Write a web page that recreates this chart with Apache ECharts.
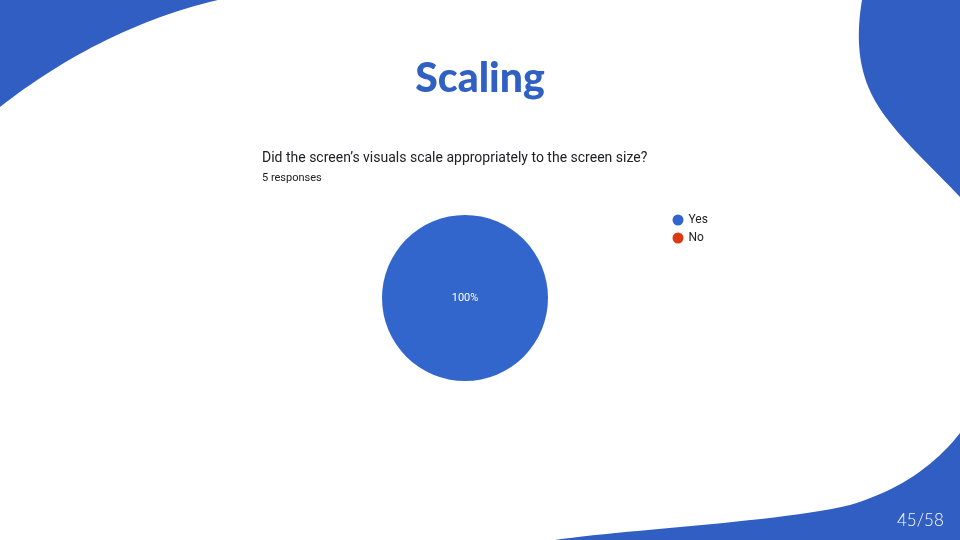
<!DOCTYPE html>
<html><head><meta charset="utf-8">
<script src="https://cdn.jsdelivr.net/npm/echarts@6/dist/echarts.min.js"></script>
<style>html,body{margin:0;padding:0;background:#fff}#c{width:960px;height:540px}</style>
</head><body><div id="c"></div>
<script>
const categories = ['Yes', 'No'];
const values = [5, 0];
const colors = ['#3366cc', '#dc3912'];
const titleText = 'Scaling';
const questionText = 'Did the screen\u2019s visuals scale appropriately to the screen size?';
const responsesText = '5 responses';
const pageText = '45/58';

const blob = '#315EC2';
// sample cubic bezier segments into polygon points (decorative shapes)
function cubic(p0, p1, p2, p3, n) {
  const pts = [];
  for (let i = 0; i <= n; i++) {
    const t = i / n, u = 1 - t;
    pts.push([
      u*u*u*p0[0] + 3*u*u*t*p1[0] + 3*u*t*t*p2[0] + t*t*t*p3[0],
      u*u*u*p0[1] + 3*u*u*t*p1[1] + 3*u*t*t*p2[1] + t*t*t*p3[1]
    ]);
  }
  return pts;
}
const tl = [[0,0],[218,0]].concat(cubic([218,0],[133,20],[60,60],[0,107],30));
const tr = [[862,0],[960,0],[960,197]]
  .concat(cubic([960,197],[930,165],[890,130],[873,97],20))
  .concat(cubic([873,97],[856,65],[857,30],[862,0],20));
const br = [[960,433],[960,540],[555,540]]
  .concat(cubic([555,540],[620,530],[780,522],[850,505],25))
  .concat(cubic([850,505],[900,490],[935,465],[960,433],20));

const chart = echarts.init(document.getElementById('c'));
const option = {
  animation: false,
  backgroundColor: '#ffffff',
  graphic: [
    {type: 'polygon', z: 0, shape: {points: tl}, style: {fill: blob}},
    {type: 'polygon', z: 0, shape: {points: tr}, style: {fill: blob}},
    {type: 'polygon', z: 0, shape: {points: br}, style: {fill: blob}},
    {type: 'text', x: 480, y: 58, style: {text: titleText, fill: '#3160C4', fontFamily: 'Lato', fontWeight: 900, fontSize: 41, align: 'center'}},
    {type: 'text', x: 262, y: 151, style: {text: questionText, fill: '#202124', fontFamily: 'Roboto', fontSize: 14}},
    {type: 'text', x: 262, y: 173, style: {text: responsesText, fill: '#202124', fontFamily: 'Roboto', fontSize: 11}},
    {type: 'text', x: 897, y: 512, style: {text: pageText, fill: '#ffffff', fontFamily: 'Lato', fontWeight: 300, fontSize: 17}}
  ],
  legend: {
    orient: 'vertical', left: 672.5, top: 214, itemGap: 6, padding: 0,
    icon: 'circle', itemWidth: 11, itemHeight: 11,
    textStyle: {fontFamily: 'Roboto', fontSize: 12, color: '#222'},
    data: categories
  },
  series: [{
    type: 'pie',
    center: [465, 298],
    radius: [0, 83],
    startAngle: 90,
    clockwise: true,
    itemStyle: {borderWidth: 0},
    labelLine: {show: false},
    label: {fontFamily: 'Roboto', fontSize: 11, color: '#ffffff'},
    data: categories.map((c, i) => ({
      name: c, value: values[i],
      itemStyle: {color: colors[i]},
      label: {show: values[i] > 0, position: 'center', formatter: p => Math.round(p.percent) + '%'}
    }))
  }]
};
try {
  chart.setOption(option);
} catch (e) {
  document.body.insertAdjacentHTML('beforeend', '<pre>' + e.stack + '</pre>');
}
</script></body></html>
